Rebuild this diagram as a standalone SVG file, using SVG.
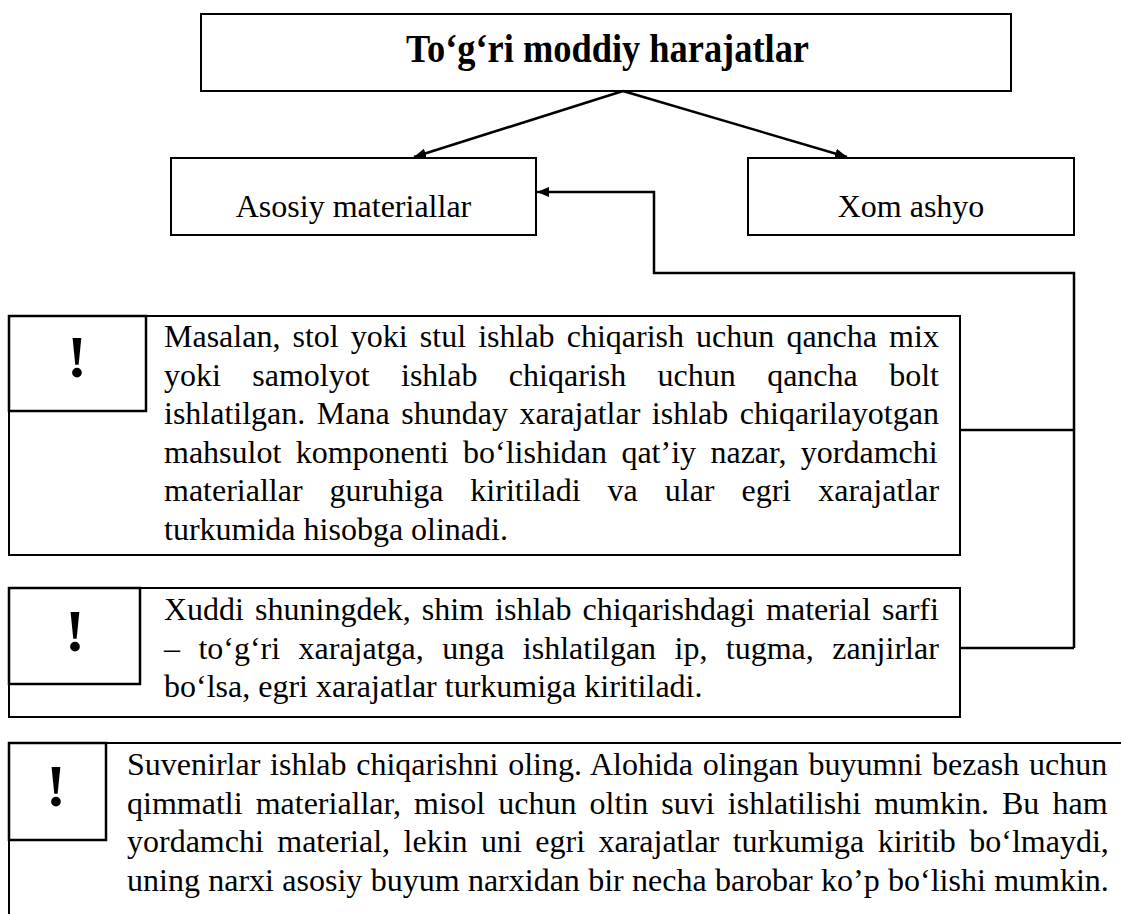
<svg xmlns="http://www.w3.org/2000/svg" width="1121" height="914" viewBox="0 0 1121 914">
  <style>
    .box { fill: #fff; stroke: #000; stroke-width: 2; }
    .mark-box { fill: #fff; stroke: #000; stroke-width: 2.5; }
    .title { font-family: "Liberation Serif", "Times New Roman", serif; font-weight: bold; font-size: 39px; fill: #000; }
    .label { font-family: "Liberation Serif", "Times New Roman", serif; font-size: 32px; fill: #000; text-anchor: middle; }
    .body { font-family: "Liberation Serif", "Times New Roman", serif; font-size: 32px; fill: #000; }
    .mark { font-family: "Liberation Serif", "Times New Roman", serif; font-weight: bold; font-size: 60px; fill: #000; text-anchor: middle; }
    .wire { fill: none; stroke: #000; stroke-width: 2.5; }
  </style>
  <defs>
    <marker id="arrow" viewBox="0 0 12 10" refX="12" refY="5" markerWidth="12" markerHeight="10" markerUnits="userSpaceOnUse" orient="auto">
      <path d="M0,0 L12,5 L0,10 Z" fill="#000"/>
    </marker>
  </defs>
  <rect width="1121" height="914" fill="#fff"/>

  <!-- main heading -->
  <g id="node-main">
    <rect class="box" x="201" y="14" width="810" height="77" stroke-width="2.5"/>
    <text class="title" x="406" y="62" textLength="403" lengthAdjust="spacingAndGlyphs">To‘g‘ri moddiy harajatlar</text>
  </g>

  <!-- two categories -->
  <g id="node-asosiy">
    <rect class="box" x="171" y="158" width="365" height="77"/>
    <text class="label" x="353.5" y="217">Asosiy materiallar</text>
  </g>
  <g id="node-xom">
    <rect class="box" x="748" y="158" width="326" height="77"/>
    <text class="label" x="911" y="217">Xom ashyo</text>
  </g>

  <!-- note 1 -->
  <g id="note-1">
    <rect class="box" x="9" y="316" width="951" height="239"/>
    <rect class="mark-box" x="9" y="316" width="137" height="95"/>
    <text class="mark" x="77" y="377">!</text>
    <text class="body" x="164" y="347" word-spacing="4.1">Masalan, stol yoki stul ishlab chiqarish uchun qancha mix</text>
    <text class="body" x="164" y="385.5" word-spacing="23.4">yoki samolyot ishlab chiqarish uchun qancha bolt</text>
    <text class="body" x="164" y="424" word-spacing="3.56">ishlatilgan. Mana shunday xarajatlar ishlab chiqarilayotgan</text>
    <text class="body" x="164" y="462.5" word-spacing="6.4">mahsulot komponenti bo‘lishidan qat’iy nazar, yordamchi</text>
    <text class="body" x="164" y="501" word-spacing="19">materiallar guruhiga kiritiladi va ular egri xarajatlar</text>
    <text class="body" x="164" y="539.5">turkumida hisobga olinadi.</text>
  </g>

  <!-- note 2 -->
  <g id="note-2">
    <rect class="box" x="9" y="588" width="951" height="129"/>
    <rect class="mark-box" x="9" y="588" width="131" height="96"/>
    <text class="mark" x="75" y="651">!</text>
    <text class="body" x="164" y="620" word-spacing="3.1">Xuddi shuningdek, shim ishlab chiqarishdagi material sarfi</text>
    <text class="body" x="164" y="658.5" word-spacing="10.4">– to‘g‘ri xarajatga, unga ishlatilgan ip, tugma, zanjirlar</text>
    <text class="body" x="164" y="697">bo‘lsa, egri xarajatlar turkumiga kiritiladi.</text>
  </g>

  <!-- note 3 (runs past the right and bottom edges) -->
  <g id="note-3">
    <rect class="box" x="9" y="743" width="1130" height="200"/>
    <rect class="mark-box" x="9" y="743" width="97" height="97"/>
    <text class="mark" x="56" y="806">!</text>
    <text class="body" x="127" y="775" word-spacing="1.76">Suvenirlar ishlab chiqarishni oling. Alohida olingan buyumni bezash uchun</text>
    <text class="body" x="127" y="813.5" word-spacing="5.1">qimmatli materiallar, misol uchun oltin suvi ishlatilishi mumkin. Bu ham</text>
    <text class="body" x="127" y="852" word-spacing="5.43">yordamchi material, lekin uni egri xarajatlar turkumiga kiritib bo‘lmaydi,</text>
    <text class="body" x="127" y="890.5" word-spacing="0.34">uning narxi asosiy buyum narxidan bir necha barobar ko’p bo‘lishi mumkin.</text>
  </g>

  <!-- connectors -->
  <g id="connectors">
    <line class="wire" x1="623" y1="91" x2="414" y2="157" marker-end="url(#arrow)"/>
    <line class="wire" x1="623" y1="91" x2="847" y2="157" marker-end="url(#arrow)"/>
    <polyline class="wire" points="1074,648 1074,273 654,273 654,192 537,192" marker-end="url(#arrow)"/>
    <line class="wire" x1="960" y1="430" x2="1074" y2="430"/>
    <line class="wire" x1="960" y1="648" x2="1074" y2="648"/>
  </g>
</svg>
